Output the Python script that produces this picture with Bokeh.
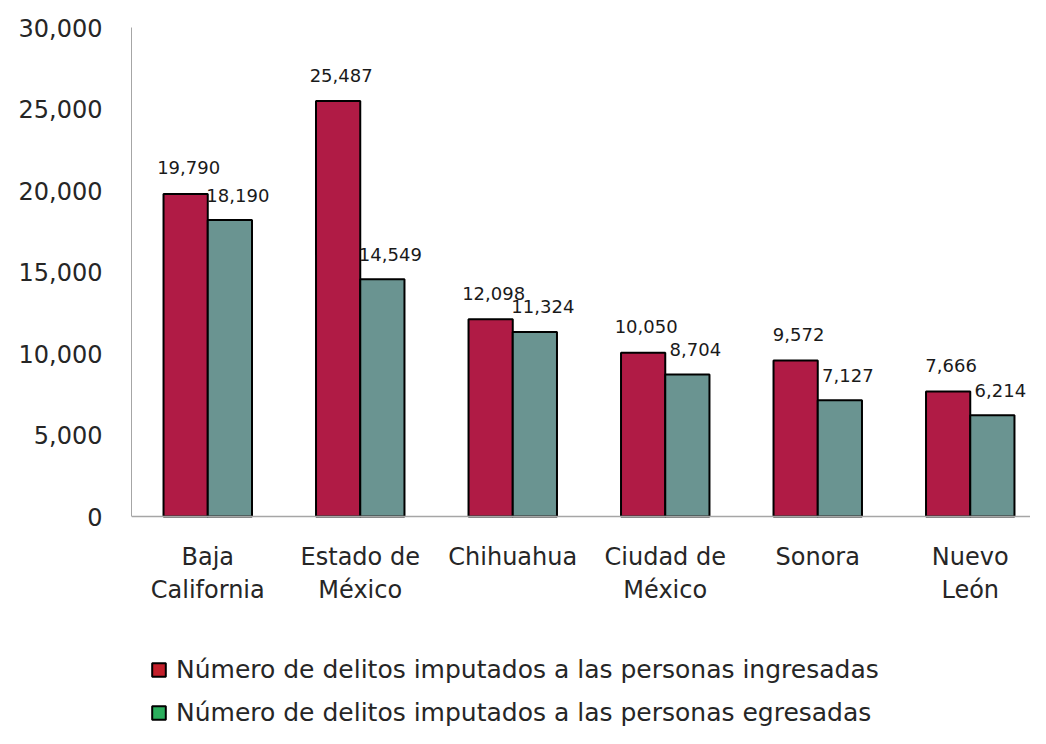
from bokeh.plotting import figure
from bokeh.models import ColumnDataSource, Range1d, FixedTicker, Legend, LegendItem, NumeralTickFormatter
from bokeh.core.properties import value
from bokeh.embed import file_html
from bokeh.resources import INLINE

# ---- data ----
estados = ["Baja California", "Estado de México", "Chihuahua", "Ciudad de México", "Sonora", "Nuevo León"]
etiquetas = ["Baja\nCalifornia", "Estado de\nMéxico", "Chihuahua", "Ciudad de\nMéxico", "Sonora", "Nuevo\nLeón"]
ingresadas = [19790, 25487, 12098, 10050, 9572, 7666]
egresadas = [18190, 14549, 11324, 8704, 7127, 6214]
serie_nombres = ["Número de delitos imputados a las personas ingresadas",
                 "Número de delitos imputados a las personas egresadas"]
y_ticks = [0, 5000, 10000, 15000, 20000, 25000, 30000]

FONT = "DejaVu Sans"
RED = "#B01B45"
TEAL = "#6A9491"
LEG_RED = "#C3202B"
LEG_GREEN = "#2BAE5D"

W, H = 1030, 728
LEFT, TOP, BASE = 131, 27, 516
CAT_W = 152.5
YMAX = 30000
ymin = -YMAX * (H - BASE) / (BASE - TOP)

pos = [i + 0.5 for i in range(len(estados))]
off = 0.145
w = 0.29
src = ColumnDataSource(dict(
    x_in=[p_ - off for p_ in pos],
    x_eg=[p_ + off for p_ in pos],
    ing=ingresadas,
    eg=egresadas,
    ing_lab=[f"{v:,}" for v in ingresadas],
    eg_lab=[f"{v:,}" for v in egresadas],
))

p = figure(width=W, height=H, output_backend="svg", toolbar_location=None,
           x_range=Range1d(0, (W - LEFT) / CAT_W), y_range=Range1d(ymin, YMAX),
           min_border_left=LEFT, min_border_right=0, min_border_top=TOP, min_border_bottom=0)
p.outline_line_color = None
p.xgrid.grid_line_color = None
p.ygrid.grid_line_color = None
p.background_fill_color = "white"

p.vbar(x="x_in", top="ing", width=w, source=src, fill_color=RED, line_color="black", line_width=2)
p.vbar(x="x_eg", top="eg", width=w, source=src, fill_color=TEAL, line_color="black", line_width=2)

p.text(x="x_in", y="ing", text="ing_lab", source=src, x_offset=3, y_offset=-26,
       text_align="center", text_baseline="middle", text_font=value(FONT),
       text_font_size="18px", text_color="#1a1a1a")
p.text(x="x_eg", y="eg", text="eg_lab", source=src, x_offset=8, y_offset=-25,
       text_align="center", text_baseline="middle", text_font=value(FONT),
       text_font_size="18px", text_color="#1a1a1a")

# axes
p.yaxis.bounds = (0, YMAX)
p.yaxis.ticker = FixedTicker(ticks=y_ticks)
p.yaxis.formatter = NumeralTickFormatter(format="0,0")
p.yaxis.major_tick_line_color = None
p.yaxis.minor_tick_line_color = None
p.yaxis.major_tick_out = 0
p.yaxis.major_tick_in = 0
p.yaxis.major_label_standoff = 29
p.yaxis.axis_line_color = "#A6A6A6"
p.yaxis.axis_line_width = 1
p.yaxis.major_label_text_font = FONT
p.yaxis.major_label_text_font_size = "24px"
p.yaxis.major_label_text_color = "#262626"

p.xaxis.fixed_location = 0
p.xaxis.ticker = FixedTicker(ticks=pos)
p.xaxis.major_label_overrides = {pos[i]: etiquetas[i] for i in range(len(pos))}
p.xaxis.major_tick_line_color = None
p.xaxis.minor_tick_line_color = None
p.xaxis.major_tick_out = 0
p.xaxis.major_tick_in = 0
p.xaxis.major_label_standoff = 26
p.xaxis.axis_line_color = "#A6A6A6"
p.xaxis.axis_line_width = 1.5
p.xaxis.major_label_text_font = FONT
p.xaxis.major_label_text_font_size = "24px"
p.xaxis.major_label_text_color = "#262626"

# legend swatches (legend-only renderers; their bars have no height)
nan = float("nan")
leg_src = ColumnDataSource(dict(x=[pos[0]], top=[nan]))
r1 = p.vbar(x="x", top="top", width=w, source=leg_src, fill_color=LEG_RED, line_color="black", line_width=2)
r2 = p.vbar(x="x", top="top", width=w, source=leg_src, fill_color=LEG_GREEN, line_color="black", line_width=2)
legend = Legend(items=[LegendItem(label=serie_nombres[0], renderers=[r1]),
                       LegendItem(label=serie_nombres[1], renderers=[r2])],
                location=(19, 1), orientation="vertical",
                glyph_width=17, glyph_height=17, label_standoff=9,
                label_height=26, spacing=14, padding=0, margin=0,
                border_line_color=None, background_fill_alpha=0,
                label_text_font=FONT, label_text_font_size="25px",
                label_text_color="#262626")
p.add_layout(legend, "center")

open("out.html", "w").write(file_html(p, INLINE))
